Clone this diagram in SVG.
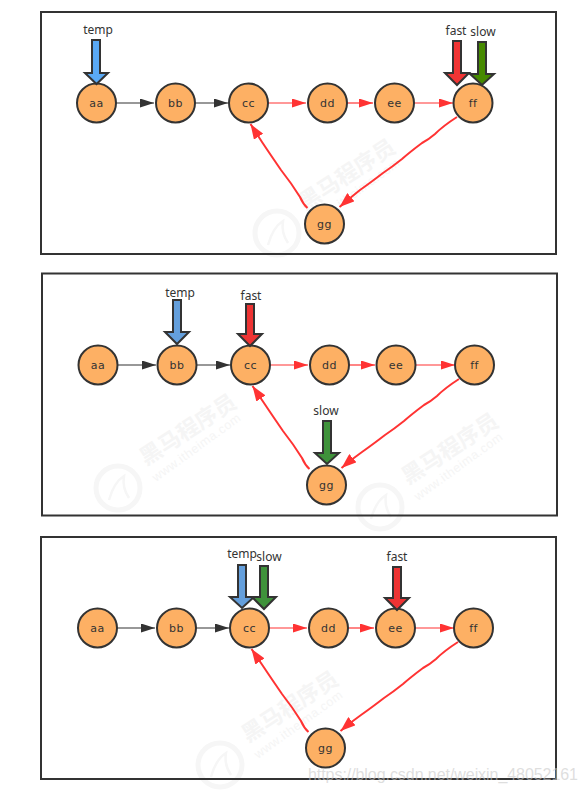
<svg xmlns="http://www.w3.org/2000/svg" width="587" height="794" viewBox="0 0 587 794">
<style>
.panel{fill:none;stroke:#333;stroke-width:2}
.n circle{fill:#fdb064;stroke:#333;stroke-width:2}
.n text{font:11px "DejaVu Sans",sans-serif;fill:#333;text-anchor:middle;letter-spacing:.4px}
.k{fill:none;stroke:#333;stroke-width:1.2;marker-end:url(#ak)}
.r{fill:none;stroke:#f33;stroke-width:1.2;marker-end:url(#ar)}
.d{fill:none;stroke:#f33;stroke-width:2;stroke-linejoin:round;marker-end:url(#ad)}
.p polygon{stroke:#333;stroke-width:2;stroke-linejoin:miter}
.p text{font:12px "Noto Sans",sans-serif;fill:#333;text-anchor:middle}
.wm text{fill:#f5f5f5}
.wm .c{font:bold 22px "Noto Sans CJK SC",sans-serif}
.wm .u{font:12.5px "Liberation Sans",sans-serif;letter-spacing:.6px}
.wm circle{fill:none;stroke:#f6f6f6;stroke-width:5}
.wm path{fill:none;stroke:#f6f6f6;stroke-width:2.5}
</style>
<defs>
<marker id="ak" markerUnits="userSpaceOnUse" markerWidth="14" markerHeight="9" refX="14" refY="4.5" orient="auto"><path d="M0 0L14 4.5L0 9Z" fill="#333"/></marker>
<marker id="ar" markerUnits="userSpaceOnUse" markerWidth="14" markerHeight="9" refX="14" refY="4.5" orient="auto"><path d="M0 0L14 4.5L0 9Z" fill="#f33"/></marker>
<marker id="ad" markerUnits="userSpaceOnUse" markerWidth="15" markerHeight="11" refX="15" refY="5.5" orient="auto"><path d="M0 0L15 5.5L0 11Z" fill="#f33"/></marker>
</defs>

<g id="watermarks">
<g class="wm" transform="translate(277,233)"><circle r="22"/><path d="M-9 12Q-4 -6 6 -12Q4 0 11 10"/><text class="c" transform="translate(28,-22) rotate(-33)">黑马程序员</text><text class="u" transform="translate(38,-6) rotate(-36)">www.itheima.com</text></g>
<g class="wm" transform="translate(118,488)"><circle r="22"/><path d="M-9 12Q-4 -6 6 -12Q4 0 11 10"/><text class="c" transform="translate(28,-22) rotate(-33)">黑马程序员</text><text class="u" transform="translate(38,-6) rotate(-36)">www.itheima.com</text></g>
<g class="wm" transform="translate(380,507)"><circle r="22"/><path d="M-9 12Q-4 -6 6 -12Q4 0 11 10"/><text class="c" transform="translate(28,-22) rotate(-33)">黑马程序员</text><text class="u" transform="translate(38,-6) rotate(-36)">www.itheima.com</text></g>
<g class="wm" transform="translate(220,765)"><circle r="22"/><path d="M-9 12Q-4 -6 6 -12Q4 0 11 10"/><text class="c" transform="translate(28,-22) rotate(-33)">黑马程序员</text><text class="u" transform="translate(38,-6) rotate(-36)">www.itheima.com</text></g>
</g>

<rect class="panel" x="41" y="12" width="515" height="242"/>
<rect class="panel" x="42" y="273.500" width="515" height="242"/>
<rect class="panel" x="41" y="537" width="515" height="242"/>

<g id="connectors-1">
<path class="k" d="M116 103H154"/><path class="k" d="M195 103H228"/>
<path class="r" d="M268 103H306"/><path class="r" d="M347 103H373"/><path class="r" d="M414 103H453"/>
<path class="d" d="M307.500 208Q303 204 300 197Q292 184 281 170Q270 154 262 142L250.500 124"/>
<path class="d" d="M457 117Q443 126 435 134Q428 140 422 143Q410 152 402 159Q392 167 383 173Q370 183 360 190Q350 198 339.500 207"/>
</g>
<g id="connectors-2" transform="translate(2,262)">
<path class="k" d="M116 103H154"/><path class="k" d="M195 103H228"/>
<path class="r" d="M268 103H306"/><path class="r" d="M347 103H373"/><path class="r" d="M414 103H453"/>
<path class="d" d="M307.500 207Q303 203 300 196Q292 183 281 169Q270 153 262 141L250.500 124"/>
<path class="d" d="M457 117Q443 126 435 134Q428 140 422 143Q410 152 402 159Q392 167 383 173Q370 183 360 190Q350 197 339.500 206"/>
</g>
<g id="connectors-3" transform="translate(1,525)">
<path class="k" d="M116 103H154"/><path class="k" d="M195 103H228"/>
<path class="r" d="M268 103H306"/><path class="r" d="M347 103H373"/><path class="r" d="M414 103H453"/>
<path class="d" d="M307.500 207Q303 203 300 196Q292 183 281 169Q270 153 262 141L250.500 124"/>
<path class="d" d="M457 117Q443 126 435 134Q428 140 422 143Q410 152 402 159Q392 167 383 173Q370 183 360 190Q350 197 339.500 206"/>
</g>

<g id="a-aa" class="n"><circle cx="96.500" cy="103" r="19.500"/><text x="96.500" y="107">aa</text></g>
<g id="a-bb" class="n"><circle cx="175.500" cy="103" r="19.500"/><text x="175.500" y="107">bb</text></g>
<g id="a-cc" class="n"><circle cx="248.500" cy="103" r="19.500"/><text x="248.500" y="107">cc</text></g>
<g id="a-dd" class="n"><circle cx="327.500" cy="103" r="19.500"/><text x="327.500" y="107">dd</text></g>
<g id="a-ee" class="n"><circle cx="394.500" cy="103" r="19.500"/><text x="394.500" y="107">ee</text></g>
<g id="a-ff" class="n"><circle cx="473" cy="103" r="19.500"/><text x="473" y="107">ff</text></g>
<g id="a-gg" class="n"><circle cx="324.500" cy="224" r="19.500"/><text x="324.500" y="228">gg</text></g>

<g id="b-aa" class="n"><circle cx="98" cy="365" r="19.500"/><text x="98" y="369">aa</text></g>
<g id="b-bb" class="n"><circle cx="177" cy="365" r="19.500"/><text x="177" y="369">bb</text></g>
<g id="b-cc" class="n"><circle cx="250.500" cy="365" r="19.500"/><text x="250.500" y="369">cc</text></g>
<g id="b-dd" class="n"><circle cx="329.500" cy="365" r="19.500"/><text x="329.500" y="369">dd</text></g>
<g id="b-ee" class="n"><circle cx="396" cy="365" r="19.500"/><text x="396" y="369">ee</text></g>
<g id="b-ff" class="n"><circle cx="474.500" cy="365" r="19.500"/><text x="474.500" y="369">ff</text></g>
<g id="b-gg" class="n"><circle cx="326.500" cy="485" r="19.500"/><text x="326.500" y="489">gg</text></g>

<g id="c-aa" class="n"><circle cx="97.500" cy="628" r="19.500"/><text x="97.500" y="632">aa</text></g>
<g id="c-bb" class="n"><circle cx="176.500" cy="628" r="19.500"/><text x="176.500" y="632">bb</text></g>
<g id="c-cc" class="n"><circle cx="249.500" cy="628" r="19.500"/><text x="249.500" y="632">cc</text></g>
<g id="c-dd" class="n"><circle cx="328.500" cy="628" r="19.500"/><text x="328.500" y="632">dd</text></g>
<g id="c-ee" class="n"><circle cx="395.500" cy="628" r="19.500"/><text x="395.500" y="632">ee</text></g>
<g id="c-ff" class="n"><circle cx="473.500" cy="628" r="19.500"/><text x="473.500" y="632">ff</text></g>
<g id="c-gg" class="n"><circle cx="325.500" cy="748" r="19.500"/><text x="325.500" y="752">gg</text></g>

<g id="a-temp" class="p"><polygon fill="#5aa9f5" points="92,40 100,40 100,73 108,73 96.500,84 85,73 92,73"/><text x="98" y="34">temp</text></g>
<g id="a-fast" class="p"><polygon fill="#f03434" points="453,41 461,41 461,73 469,73 457,85 445,73 453,73"/><text x="456" y="35">fast</text></g>
<g id="a-slow" class="p"><polygon fill="#468a00" points="478,42 486,42 486,74 494,74 482,85 470,74 478,74"/><text x="483" y="36">slow</text></g>

<g id="b-temp" class="p"><polygon fill="#649fdc" points="173,300 181,300 181,332 189,332 177,344 165,332 173,332"/><text x="180" y="297">temp</text></g>
<g id="b-fast" class="p"><polygon fill="#ee3333" points="246,304 254,304 254,334 262,334 250,346 238,334 246,334"/><text x="251" y="300">fast</text></g>
<g id="b-slow" class="p"><polygon fill="#3f923b" points="323,421 331,421 331,453 339,453 327,464 315,453 323,453"/><text x="326" y="415">slow</text></g>

<g id="c-temp" class="p"><polygon fill="#649fdc" points="238,565 246,565 246,597 254,597 242,608 230,597 238,597"/><text x="242" y="558">temp</text></g>
<g id="c-slow" class="p"><polygon fill="#3f923b" points="260,566 268,566 268,597 276,597 264,609 252,597 260,597"/><text x="269" y="561">slow</text></g>
<g id="c-fast" class="p"><polygon fill="#ee3333" points="393,567 401,567 401,598 409,598 397,610 385,598 393,598"/><text x="397" y="561">fast</text></g>

<text x="308" y="780" font-family="Liberation Sans, sans-serif" font-size="16" fill="#c8c8c8" fill-opacity=".6" textLength="270">https://blog.csdn.net/weixin_48052161</text>
</svg>
